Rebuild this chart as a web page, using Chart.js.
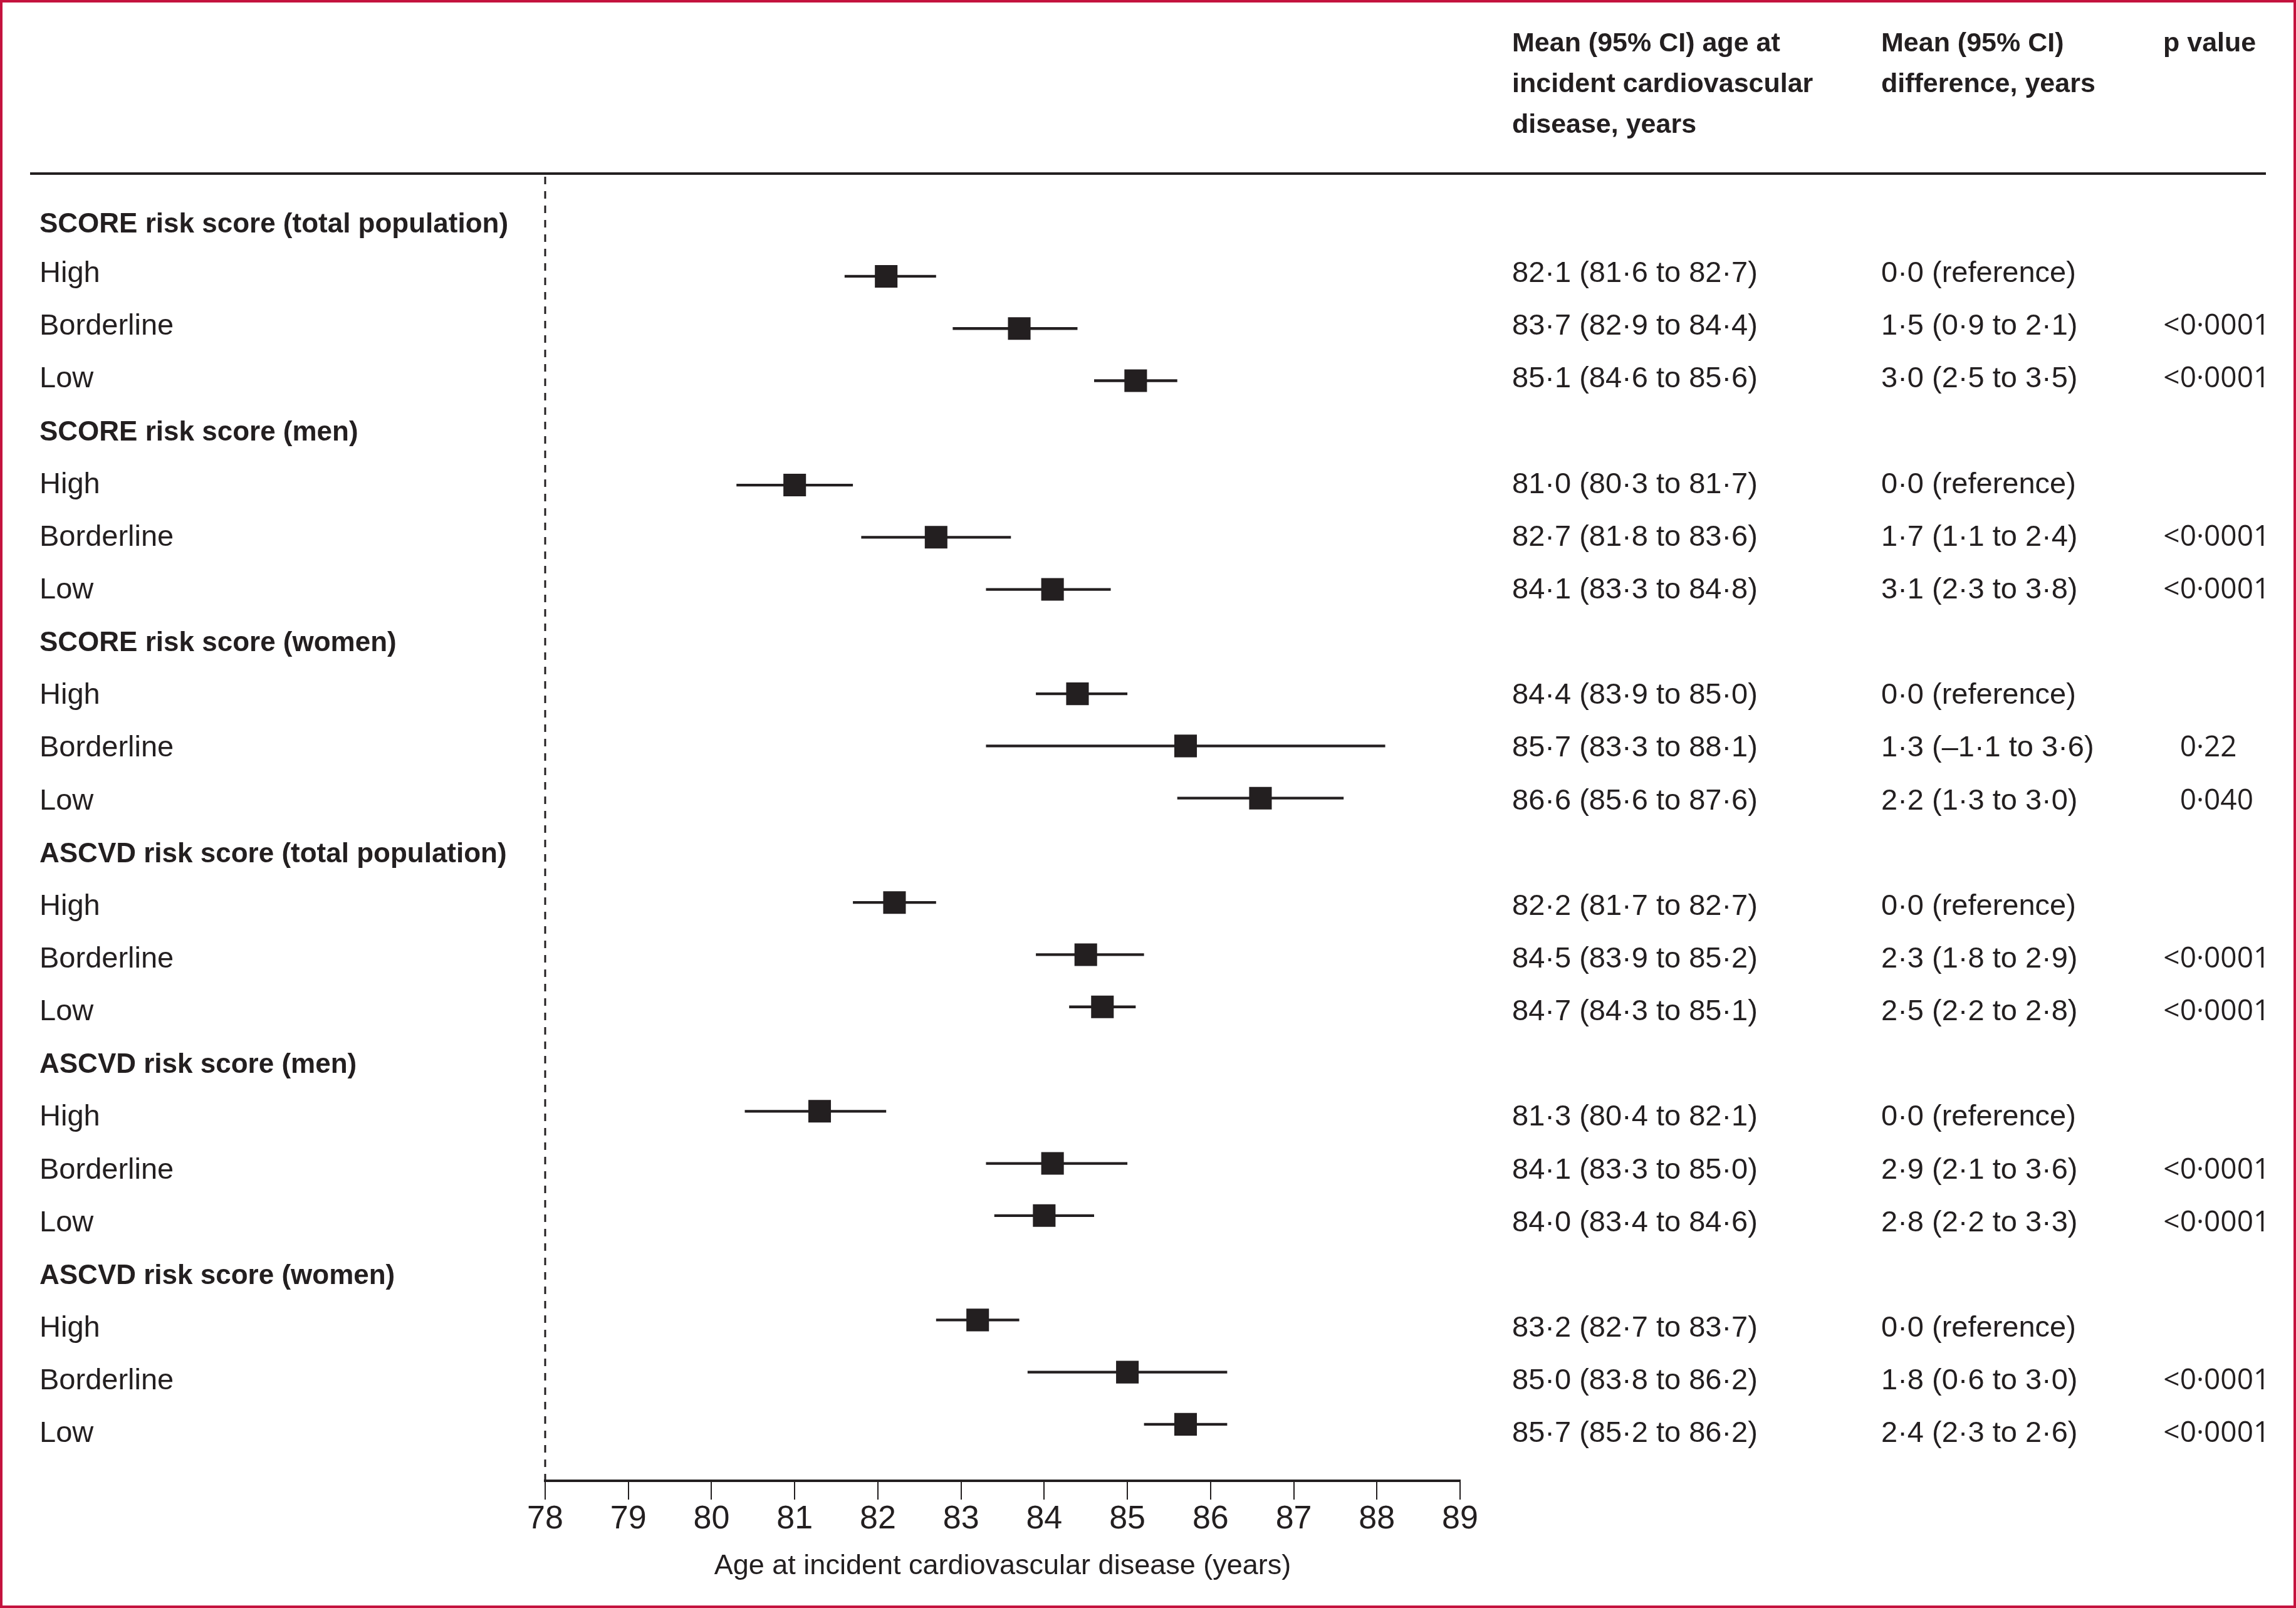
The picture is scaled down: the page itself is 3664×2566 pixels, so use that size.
<!DOCTYPE html>
<html lang="en">
<head>
<meta charset="utf-8">
<title>Age at incident cardiovascular disease</title>
<script src="https://cdn.jsdelivr.net/npm/chart.js@4.4.1/dist/chart.umd.min.js"></script>
<style>
  html, body { margin: 0; padding: 0; background: #fff; }
  #lienzo { display: block; }
</style>
</head>
<body>
<canvas id="lienzo" width="3664" height="2566"></canvas>
<script>
// Datos
const grupos = [
  'SCORE risk score (total population)',
  'SCORE risk score (men)',
  'SCORE risk score (women)',
  'ASCVD risk score (total population)',
  'ASCVD risk score (men)',
  'ASCVD risk score (women)'
];
const niveles = ['High', 'Borderline', 'Low'];
const medias     = [82.1, 83.7, 85.1, 81.0, 82.7, 84.1, 84.4, 85.7, 86.6, 82.2, 84.5, 84.7, 81.3, 84.1, 84.0, 83.2, 85.0, 85.7];
const inferiores = [81.6, 82.9, 84.6, 80.3, 81.8, 83.3, 83.9, 83.3, 85.6, 81.7, 83.9, 84.3, 80.4, 83.3, 83.4, 82.7, 83.8, 85.2];
const superiores = [82.7, 84.4, 85.6, 81.7, 83.6, 84.8, 85.0, 88.1, 87.6, 82.7, 85.2, 85.1, 82.1, 85.0, 84.6, 83.7, 86.2, 86.2];
const diferencias = [
  '0·0 (reference)', '1·5 (0·9 to 2·1)', '3·0 (2·5 to 3·5)',
  '0·0 (reference)', '1·7 (1·1 to 2·4)', '3·1 (2·3 to 3·8)',
  '0·0 (reference)', '1·3 (–1·1 to 3·6)', '2·2 (1·3 to 3·0)',
  '0·0 (reference)', '2·3 (1·8 to 2·9)', '2·5 (2·2 to 2·8)',
  '0·0 (reference)', '2·9 (2·1 to 3·6)', '2·8 (2·2 to 3·3)',
  '0·0 (reference)', '1·8 (0·6 to 3·0)', '2·4 (2·3 to 2·6)'
];
const valoresP = [
  '', '<0·0001', '<0·0001',
  '', '<0·0001', '<0·0001',
  '', '0·22', '0·040',
  '', '<0·0001', '<0·0001',
  '', '<0·0001', '<0·0001',
  '', '<0·0001', '<0·0001'
];
const ticksX = [78, 79, 80, 81, 82, 83, 84, 85, 86, 87, 88, 89];
const tituloEjeX = 'Age at incident cardiovascular disease (years)';
const cabeceraMedia = ['Mean (95% CI) age at', 'incident cardiovascular', 'disease, years'];
const cabeceraDif = ['Mean (95% CI)', 'difference, years'];
const cabeceraP = ['p value'];

const NEGRO = '#231f20';
const FUENTE = "'Liberation Sans', Arial, sans-serif";
const FUENTE_P = "'Open Sans', 'Noto Sans', sans-serif";

// fila en la tabla: cabecera de grupo + 3 niveles
const filaDe = i => Math.floor(i / 3) * 4 + 1 + (i % 3);
const fmt = v => v.toFixed(1).replace('.', '·');

// puntos y bigotes
const puntos = medias.map((m, i) => ({ x: m, y: filaDe(i) }));
const bigotes = [];
medias.forEach((m, i) => {
  const y = filaDe(i);
  bigotes.push({ x: inferiores[i], y }, { x: superiores[i], y }, { x: superiores[i], y: null });
});

// Texto de la tabla, cabeceras, línea discontinua y marco
const tablaPlugin = {
  id: 'tabla',
  beforeDraw(chart) {
    const ctx = chart.ctx;
    ctx.save();
    ctx.fillStyle = '#fff';
    ctx.fillRect(0, 0, chart.width, chart.height);
    ctx.restore();
  },
  afterDraw(chart) {
    const ctx = chart.ctx;
    const sx = chart.scales.x;
    const base = r => 366 + r * 84.14 + (r === 0 ? 5 : 0);
    ctx.save();
    ctx.fillStyle = NEGRO;
    ctx.strokeStyle = NEGRO;

    // cabeceras de columnas
    ctx.textBaseline = 'alphabetic';
    ctx.textAlign = 'left';
    ctx.font = `bold 43px ${FUENTE}`;
    cabeceraMedia.forEach((t, k) => ctx.fillText(t, 2413, 82 + k * 65));
    cabeceraDif.forEach((t, k) => ctx.fillText(t, 3002, 82 + k * 65));
    cabeceraP.forEach((t, k) => ctx.fillText(t, 3452, 82 + k * 65));

    // regla de cabecera
    ctx.lineWidth = 4;
    ctx.beginPath();
    ctx.moveTo(48, 277);
    ctx.lineTo(3616, 277);
    ctx.stroke();

    // línea discontinua en el mínimo del eje
    const x0 = sx.getPixelForValue(ticksX[0]);
    ctx.lineWidth = 3;
    ctx.setLineDash([12, 11]);
    ctx.beginPath();
    ctx.moveTo(x0, 282);
    ctx.lineTo(x0, chart.chartArea.bottom);
    ctx.stroke();
    ctx.setLineDash([]);

    // filas
    grupos.forEach((g, gi) => {
      ctx.font = `bold 44px ${FUENTE}`;
      ctx.fillText(g, 63, base(gi * 4));
      niveles.forEach((n, li) => {
        const i = gi * 3 + li;
        const y = base(filaDe(i));
        ctx.font = `47px ${FUENTE}`;
        ctx.fillText(n, 63, y);
        ctx.fillText(`${fmt(medias[i])} (${fmt(inferiores[i])} to ${fmt(superiores[i])})`, 2413, y);
        ctx.fillText(diferencias[i], 3002, y);
        const p = valoresP[i];
        if (p) {
          // alineado por el punto decimal
          ctx.font = `46px ${FUENTE_P}`;
          const pos = p.indexOf('·');
          const izq = ctx.measureText(p.slice(0, pos)).width;
          const punto = ctx.measureText('·').width;
          ctx.fillText(p, 3511 - izq - punto / 2, y);
        }
      });
    });

    // marco
    ctx.strokeStyle = '#c4123e';
    ctx.lineWidth = 4;
    ctx.strokeRect(2, 2, chart.width - 4, chart.height - 4);
    ctx.restore();
  }
};

new Chart(document.getElementById('lienzo'), {
  type: 'scatter',
  data: {
    datasets: [
      {
        label: 'Mean',
        data: puntos,
        order: 0,
        showLine: false,
        pointStyle: 'rect',
        pointRadius: 25.5,
        pointBorderWidth: 0,
        pointBackgroundColor: NEGRO
      },
      {
        label: '95% CI',
        data: bigotes,
        order: 1,
        showLine: true,
        spanGaps: false,
        pointRadius: 0,
        borderWidth: 4.3,
        borderColor: NEGRO,
        fill: false
      }
    ]
  },
  options: {
    responsive: false,
    devicePixelRatio: 1,
    animation: false,
    events: [],
    layout: { padding: { left: 870, right: 1334, top: 280, bottom: 0 } },
    scales: {
      x: {
        type: 'linear',
        position: 'bottom',
        min: ticksX[0],
        max: ticksX[ticksX.length - 1],
        afterBuildTicks: s => { s.ticks = ticksX.map(v => ({ value: v })); },
        afterFit: s => { s.height = 203; },
        border: { display: true, color: NEGRO, width: 4 },
        grid: { display: true, drawOnChartArea: false, drawTicks: true, tickLength: 30, lineWidth: 2, color: NEGRO },
        ticks: { color: NEGRO, font: { family: FUENTE, size: 52 }, padding: 0, maxRotation: 0, autoSkip: false },
        title: { display: true, text: tituloEjeX, color: NEGRO, font: { family: FUENTE, size: 45 }, padding: { top: 0, bottom: 39 } }
      },
      y: { type: 'linear', display: false, reverse: true, min: -0.933, max: 24.082 }
    },
    plugins: { legend: { display: false }, tooltip: { enabled: false } }
  },
  plugins: [tablaPlugin]
});
</script>
</body>
</html>
